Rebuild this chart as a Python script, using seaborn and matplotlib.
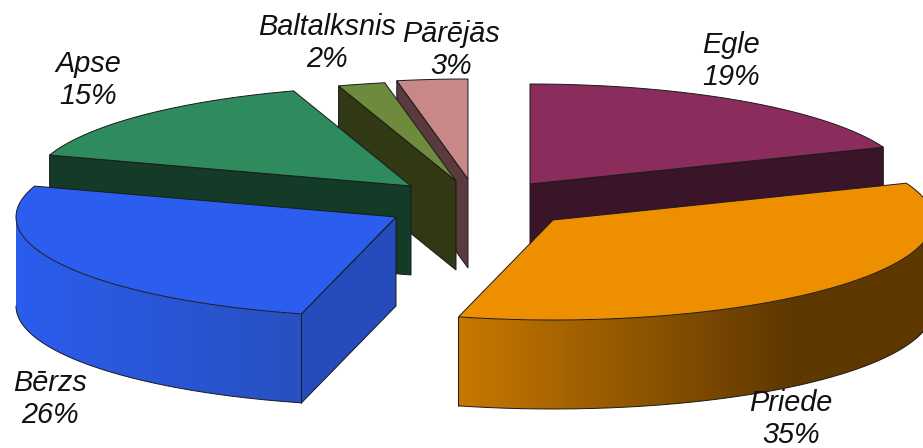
import numpy as np
import matplotlib
matplotlib.use('Agg')
import matplotlib.pyplot as plt
from matplotlib.colors import LinearSegmentedColormap
from matplotlib.patches import Polygon
import seaborn as sns

# species shares, clockwise from 12 o'clock
species = ['Egle', 'Priede', 'Bērzs', 'Apse', 'Baltalksnis', 'Pārējās']
shares = [19, 35, 26, 15, 2, 3]

top_colors = ['#8B2D5C', '#EE8F00', '#2B5DEE', '#2E8B5E', '#6E8B3D', '#C98888']
side_colors = ['#3A1428', '#C87800', '#2B5DEE', '#143A28', '#303814', '#5A3A3C']
side_colors_end = ['#3A1428', '#5F3800', '#2850C0', '#143A28', '#303814', '#5A3A3C']
side_ramp = [1, 0.7, 1, 1, 1, 1]
cut_colors = ['#3A1428', '#5F3800', '#264BBB', '#143A28', '#303814', '#5A3A3C']

# where each exploded slice has its tip, in pixels
tip_x = [530, 553, 396, 411, 456, 468]
tip_y = [184, 220, 217, 186, 181, 179]
label_x = [731, 791, 50, 88, 327, 451]
label_y = [61, 419, 399, 80, 43, 50]

RX, RY, DEPTH = 380, 100, 89
EDGE = '#1a1a1a'

sns.set_style('white')
plt.rcParams['font.family'] = ['Liberation Sans', 'DejaVu Sans']

fig = plt.figure(figsize=(9.23, 4.48), dpi=100)
ax = fig.add_axes([0, 0, 1, 1])

ends = np.cumsum(shares) / sum(shares) * 360
starts = np.r_[0, ends[:-1]]


def rim(i, a, b, n=120):
    t = np.radians(np.linspace(a, b, n))
    return tip_x[i] + RX * np.sin(t), tip_y[i] - RY * np.cos(t)


def cut_face(i, angle, z):
    px, py = rim(i, angle, angle, 1)
    xs = [tip_x[i], px[0], px[0], tip_x[i]]
    ys = [tip_y[i], py[0], py[0] + DEPTH, tip_y[i] + DEPTH]
    ax.fill(xs, ys, facecolor=cut_colors[i], edgecolor=EDGE, lw=0.7, zorder=z)


def outer_side(i, a, b, z):
    xs, ys = rim(i, a, b, 160)
    left, right = xs.min(), xs.max()
    # horizontal gradient clipped to the curved band
    stop = side_ramp[i]
    pal = sns.blend_palette([side_colors[i], side_colors_end[i]], 64)
    cmap = LinearSegmentedColormap.from_list('side', pal)
    ramp = np.clip(np.linspace(0, 1, 400) / stop, 0, 1).reshape(1, -1)
    band = np.c_[np.r_[xs, xs[::-1]], np.r_[ys, ys[::-1] + DEPTH]]
    im = ax.imshow(ramp, cmap=cmap, vmin=0, vmax=1, aspect='auto', interpolation='bilinear',
                   extent=[left, right, ys.max() + DEPTH, ys.min()], zorder=z)
    im.set_clip_path(Polygon(band, transform=ax.transData))
    ax.plot(xs, ys + DEPTH, color=EDGE, lw=0.7, zorder=z + 0.1)
    # vertical line only at a real corner, not where the rim turns away
    if a == starts[i]:
        ax.plot([xs[0], xs[0]], [ys[0], ys[0] + DEPTH], color=EDGE, lw=0.7, zorder=z + 0.1)
    if b == ends[i]:
        ax.plot([xs[-1], xs[-1]], [ys[-1], ys[-1] + DEPTH], color=EDGE, lw=0.7, zorder=z + 0.1)


# back slices first, front ones last
order = [5, 4, 0, 3, 1, 2]
for rank, i in enumerate(order):
    z = 10 + rank * 2
    a, b = starts[i], ends[i]
    # a cut face shows only when it turns to the viewer
    if np.sin(np.radians(a)) < -1e-6:
        cut_face(i, a, z)
    if np.sin(np.radians(b)) > 1e-6:
        cut_face(i, b, z)
    lo, hi = max(a, 90), min(b, 270)
    if lo < hi:
        outer_side(i, lo, hi, z + 0.5)
    xs, ys = rim(i, a, b)
    ax.fill(np.r_[tip_x[i], xs], np.r_[tip_y[i], ys],
            facecolor=top_colors[i], edgecolor=EDGE, lw=0.7, zorder=z + 1)

for i, name in enumerate(species):
    ax.text(label_x[i], label_y[i], f'{name}\n{shares[i]}%', ha='center', va='center',
            style='italic', fontsize=20.8, color='#111111', linespacing=1.2, zorder=40)

ax.set_xlim(0, 923)
ax.set_ylim(448, 0)
ax.axis('off')

fig.savefig('out.png', dpi=100)
